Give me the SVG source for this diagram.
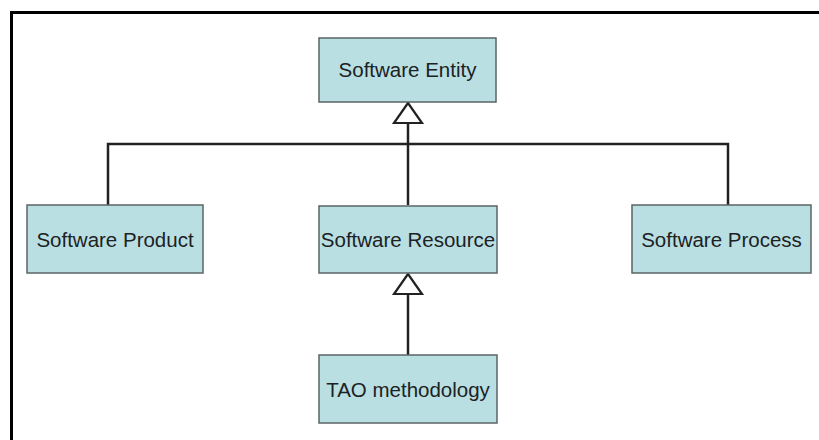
<svg xmlns="http://www.w3.org/2000/svg" width="819" height="440" viewBox="0 0 819 440">
  <style>
    .node rect { fill: #b9dfe3; stroke: #5a6466; stroke-width: 1.5; }
    .node text { font-family: "Liberation Sans", Arial, sans-serif; font-size: 20.5px; fill: #1c2224; text-anchor: middle; dominant-baseline: central; }
    .edge { fill: none; stroke: #222; stroke-width: 2.5; }
    .head { fill: #fff; stroke: #222; stroke-width: 2.2; stroke-linejoin: miter; }
    .frame { fill: none; stroke: #000; stroke-width: 3; }
  </style>
  <rect width="819" height="440" fill="#fff"/>
  <!-- outer frame: top and left edges -->
  <path class="frame" d="M11.5,442 V12.5 H821"/>

  <g id="connectors">
    <path class="edge" d="M108,205 V144 H728 V205"/>
    <path class="edge" d="M408,205 V123"/>
    <path class="edge" d="M408,355 V294"/>
    <polygon class="head" points="408,103 394,123 422,123"/>
    <polygon class="head" points="408,274 394,294 422,294"/>
  </g>

  <g id="software-entity" class="node">
    <rect x="319" y="38" width="177" height="64"/>
    <text x="407.5" y="69">Software Entity</text>
  </g>
  <g id="software-product" class="node">
    <rect x="27" y="205" width="176" height="68"/>
    <text x="115" y="239">Software Product</text>
  </g>
  <g id="software-resource" class="node">
    <rect x="319" y="206" width="178" height="67"/>
    <text x="408" y="239">Software Resource</text>
  </g>
  <g id="software-process" class="node">
    <rect x="632" y="205" width="179" height="68"/>
    <text x="721.5" y="239">Software Process</text>
  </g>
  <g id="tao-methodology" class="node">
    <rect x="319" y="355" width="178" height="68"/>
    <text x="408" y="389">TAO methodology</text>
  </g>
</svg>
